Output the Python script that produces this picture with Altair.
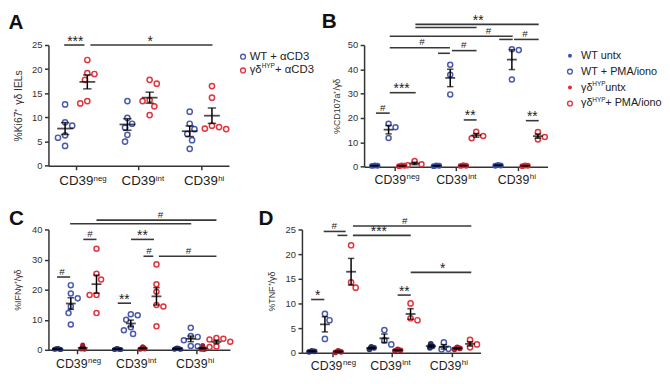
import altair as alt
import numpy as np
import pandas as pd

FONT = "Liberation Sans"
CAT_SUPS = ["neg", "int", "hi"]
Y_TITLES = ["%Ki67⁺ γδ IELs", "%CD107a⁺/γδ", "%IFNγ⁺/γδ", "%TNF⁺/γδ"]

# ---------------- Panel A ----------------
A_WT = [[12.7, 9.0, 8.3, 6.3, 5.8, 4.1], [13.4, 9.9, 8.7, 7.9, 6.4, 5.0], [11.2, 8.7, 7.6, 6.6, 5.3, 3.5]]
A_HYP = [[21.9, 19.2, 19.0, 17.8, 13.4, 12.9], [17.8, 17.0, 13.6, 13.4, 12.3, 10.5], [16.5, 14.1, 8.3, 8.0, 7.7, 7.6]]
A_SIG_X1 = [-0.194, 0.226]
A_SIG_X2 = [0.131, 2.185]
A_SIG_Y = [25.0, 25.0]
A_SIG_LAB = ["***", "*"]
A_SIG_LX = [-0.016, 1.185]

# ---------------- Panel B ----------------
B_WT_UNTX = [[0.3, 0.4, 0.5], [0.2, 0.4, 0.5], [0.4, 0.5, 0.7]]
B_WT_PMA = [[17.6, 16.2, 11.8], [41.9, 37.8, 29.7], [48.3, 47.9, 35.8]]
B_HYP_UNTX = [[0.2, 0.4, 0.5], [0.3, 0.4, 0.6], [0.2, 0.4, 0.5]]
B_HYP_PMA = [[2.3, 1.0, 0.6], [14.3, 12.6, 11.7], [14.2, 12.2, 11.2]]
B_SIG_X1 = [0.344, 0.344, -0.072, 1.704, 1.944, -0.072, 0.712, 0.936, -0.072, -0.296, 1.128, 2.136]
B_SIG_X2 = [2.344, 1.336, 1.923, 1.923, 2.344, 0.904, 0.904, 1.336, 0.349, -0.072, 1.336, 2.344]
B_SIG_Y = [58.5, 57.2, 53.6, 52.3, 52.3, 48.9, 46.6, 47.7, 30.4, 22.0, 19.2, 18.9]
B_SIG_LAB = ["**", "", "#", "", "#", "#", "", "#", "***", "#", "**", "**"]
B_SIG_LX = [1.363, None, 1.53, None, 2.12, 0.45, None, 1.13, 0.12, -0.184, 1.232, 2.24]

# ---------------- Panel C ----------------
C_WT_UNTX = [[0.1, 0.2, 0.2, 0.3, 0.4, 0.4], [0.1, 0.1, 0.2, 0.3, 0.3, 0.4], [0.2, 0.2, 0.3, 0.4, 0.5, 0.6]]
C_WT_STIM = [[21.5, 18.7, 17.1, 14.4, 12.2, 8.4], [11.8, 11.5, 10.0, 7.5, 6.5, 5.3], [7.3, 4.6, 4.3, 3.2, 1.3, 1.2]]
C_HYP_UNTX = [[1.6, 1.0, 0.6, 0.4, 0.3, 0.2], [1.0, 0.7, 0.5, 0.4, 0.3, 0.2], [1.4, 0.9, 0.5, 0.3, 0.2, 0.1]]
C_HYP_STIM = [[33.6, 25.3, 23.4, 18.2, 18.2, 12.2], [28.4, 21.8, 19.3, 14.9, 14.4, 7.8], [3.9, 3.7, 3.4, 2.7, 1.1, 0.9]]
C_SIG_X1 = [0.329, -0.110, 0.109, 0.905, 1.112, 1.370, -0.329, 0.684]
C_SIG_X2 = [2.329, 1.908, 0.329, 1.288, 1.276, 2.329, -0.110, 0.905]
C_SIG_Y = [43.1, 41.9, 36.7, 36.7, 31.1, 31.1, 24.2, 15.5]
C_SIG_LAB = ["#", "", "#", "**", "#", "#", "#", "**"]
C_SIG_LX = [1.398, None, 0.219, 1.095, 1.206, 1.864, -0.247, 0.794]

# ---------------- Panel D ----------------
D_WT_UNTX = [[0.2, 0.3, 0.4], [0.7, 1.0, 1.2], [1.0, 1.3, 1.8]]
D_WT_STIM = [[7.9, 6.6, 2.8], [4.6, 2.5, 1.7], [2.1, 0.8, 0.7]]
D_HYP_UNTX = [[0.1, 0.2, 0.4], [0.4, 0.5, 0.7], [0.7, 0.9, 1.1]]
D_HYP_STIM = [[21.8, 14.3, 13.2], [10.0, 7.0, 6.6], [2.6, 1.7, 1.1]]
D_SIG_X1 = [-0.149, 0.083, 0.343, 0.343, 1.315, -0.360, 1.095]
D_SIG_X2 = [0.221, 0.249, 2.333, 1.315, 2.333, -0.138, 1.315]
D_SIG_Y = [24.6, 23.8, 25.7, 23.8, 16.3, 10.8, 11.7]
D_SIG_LAB = ["#", "", "#", "***", "*", "*", "**"]
D_SIG_LX = [0.028, None, 1.216, 0.779, 1.852, -0.249, 1.206]

# ---------------- Legends ----------------
LEG_A_PRE = ["WT + αCD3", "γδ"]
LEG_A_SUP = ["", "HYP"]
LEG_A_POST = ["", "+ αCD3"]
LEG_B_PRE = ["WT untx", "WT + PMA/iono", "γδ", "γδ"]
LEG_B_SUP = ["", "", "HYP", "HYP"]
LEG_B_POST = ["", "", "\u00a0untx", "+ PMA/iono"]

BLUE_O, RED_O = "#4a5aad", "#e0353e"
BLUE_FB, RED_FB = "#3553b0", "#d9303a"
BLUE_FD, RED_FD = "#28316c", "#a81c2c"
INK = "#333333"


def swarm(vals, ypx, sep):
    step = sep / 3.0
    placed, out, total = [], [0.0] * len(vals), 0.0
    order = sorted(range(len(vals)), key=lambda i: -vals[i])
    for i in order:
        y = vals[i] * ypx
        chosen = None
        for j in range(0, 80):
            d = j * step
            cands = [0.0] if j == 0 else ([d, -d] if total <= 0 else [-d, d])
            for c in cands:
                if all((c - px) ** 2 + (y - py) ** 2 >= sep ** 2 - 1e-9 for px, py in placed):
                    chosen = c
                    break
            if chosen is not None:
                break
        placed.append((chosen, y))
        out[i] = chosen
        total += chosen
    return out


def panel(p):
    W, H, xdom, ydom = p["w"], p["h"], p["xdom"], p["ydom"]
    L = p["letter"]
    gf = "grp" + L
    pxx = W / (xdom[1] - xdom[0])
    pxy = H / (ydom[1] - ydom[0])
    rows, stats = [], []
    for gi, (name, vals, filled) in enumerate(p["groups"]):
        for ci, v in enumerate(vals):
            cx = ci + p["goff"][gi]
            offs = swarm(v, pxy, p["sep_f"] if filled else p["sep_o"])
            for val, o in zip(v, offs):
                rows.append({"x": cx + o / pxx, "y": val, gf: name, "filled": filled})
            arr = np.array(v, dtype=float)
            m = arr.mean()
            s = arr.std(ddof=1) / np.sqrt(len(arr))
            stats.append({"x": cx, "m": m, "lo": m - s, "hi": m + s})
    pts = pd.DataFrame(rows)
    st = pd.DataFrame(stats)
    lx = [l if l is not None else (a + b) / 2 for l, a, b in zip(p["sig_lx"], p["sig_x1"], p["sig_x2"])]
    sig = pd.DataFrame({"x1": p["sig_x1"], "x2": p["sig_x2"], "y": p["sig_y"], "lab": p["sig_lab"], "lx": lx})
    cats = pd.DataFrame({"x": [0, 1, 2], "sup": CAT_SUPS})

    xs = alt.Scale(domain=xdom, nice=False, zero=False)
    ys = alt.Scale(domain=ydom, nice=False, zero=True)
    xa = alt.Axis(values=[0, 1, 2], labels=False, title=None, grid=False, tickSize=4)
    ya = alt.Axis(values=p["yticks"], title=p["ytitle"], grid=False, tickSize=4,
                  titleFontSize=p["tfs"], titlePadding=p["tpad"], labelFontSize=9.5)

    def X(f):
        return alt.X(f, type="quantitative", scale=xs, axis=xa)

    def Y(f):
        return alt.Y(f, type="quantitative", scale=ys, axis=ya)

    col = alt.Color(gf, type="nominal",
                    scale=alt.Scale(domain=[g[0] for g in p["groups"]], range=p["colors"]), legend=None)

    base = alt.Chart(pts)
    filled = base.transform_filter("datum.filled").mark_circle(size=p["fsize"], opacity=1).encode(
        x=X("x"), y=Y("y"), color=col)
    opened = base.transform_filter("!datum.filled").mark_point(
        shape="circle", filled=False, size=p["osize"], strokeWidth=1.5, opacity=1).encode(
        x=X("x"), y=Y("y"), color=col)

    sb = alt.Chart(st)
    err = sb.mark_rule(color="black", strokeWidth=1.5).encode(x=X("x"), y=Y("lo"), y2=alt.Y2("hi"))
    mean = sb.mark_tick(orient="horizontal", size=p["mw"], thickness=1.8, color="black").encode(x=X("x"), y=Y("m"))
    caplo = sb.mark_tick(orient="horizontal", size=p["cw"], thickness=1.5, color="black").encode(x=X("x"), y=Y("lo"))
    caphi = sb.mark_tick(orient="horizontal", size=p["cw"], thickness=1.5, color="black").encode(x=X("x"), y=Y("hi"))

    gb = alt.Chart(sig)
    srule = gb.mark_rule(color="#383838", strokeWidth=1.6).encode(x=X("x1"), x2=alt.X2("x2"), y=Y("y"))
    stars = gb.transform_filter("indexof(datum.lab, '*') >= 0").mark_text(
        fontSize=14, baseline="alphabetic", dy=0.5, color="#222").encode(x=X("lx"), y=Y("y"), text="lab:N")
    hashes = gb.transform_filter("datum.lab == '#'").mark_text(
        fontSize=10, baseline="alphabetic", dy=-2.5, color="#222").encode(x=X("lx"), y=Y("y"), text="lab:N")

    cb = alt.Chart(cats)
    cmain = cb.mark_text(text="CD39", fontSize=p["cfs"], baseline="alphabetic", dx=p["cdx"], color="#222").encode(
        x=X("x"), y=alt.value(H + p["coff"]))
    csup = cb.mark_text(fontSize=8, align="left", baseline="alphabetic", dx=p["sdx"], dy=-5, color="#222").encode(
        x=X("x"), y=alt.value(H + p["coff"]), text="sup:N")

    letter = alt.Chart(pd.DataFrame({"t": [L]})).mark_text(
        fontSize=21, fontWeight="bold", align="left", baseline="alphabetic", color="#111").encode(
        x=alt.value(p["lxy"][0]), y=alt.value(p["lxy"][1]), text="t:N")

    return alt.layer(filled, opened, err, mean, caplo, caphi, srule, stars, hashes, cmain, csup, letter).properties(
        width=W, height=H)


def legend(tag, pre, sup, post, colors, filled, W, H, yr, sx, tx, fs, sup_w, pre_w):
    kf = "key" + tag
    keys = [f"{tag}{i}" for i in range(len(pre))]
    df = pd.DataFrame({kf: keys, "pre": pre, "sup": sup, "post": post, "filled": filled})
    ysc = alt.Scale(type="point", domain=keys, range=yr, padding=0)
    Yk = alt.Y(kf, type="nominal", scale=ysc, axis=None)
    col = alt.Color(kf, type="nominal", scale=alt.Scale(domain=keys, range=colors), legend=None)
    b = alt.Chart(df)
    op = b.transform_filter("!datum.filled").mark_point(
        shape="circle", filled=False, size=24, strokeWidth=1.4, opacity=1).encode(x=alt.value(sx), y=Yk, color=col)
    fl = b.transform_filter("datum.filled").mark_circle(size=16, opacity=1).encode(x=alt.value(sx), y=Yk, color=col)
    t1 = b.mark_text(align="left", baseline="middle", fontSize=fs, color="#222").encode(
        x=alt.value(tx), y=Yk, text="pre:N")
    t2 = b.mark_text(align="left", baseline="middle", fontSize=6.5, dy=-4, color="#222").encode(
        x=alt.value(tx + pre_w), y=Yk, text="sup:N")
    t3 = b.mark_text(align="left", baseline="middle", fontSize=fs, color="#222").encode(
        x=alt.value(tx + pre_w + sup_w), y=Yk, text="post:N")
    return alt.layer(op, fl, t1, t2, t3).properties(width=W, height=H)


pA = panel(dict(
    w=183, h=122.4, xdom=[-0.447, 2.45], ydom=[0, 25], yticks=[0, 5, 10, 15, 20, 25], ytitle=Y_TITLES[0],
    tfs=10.5, tpad=8.4,
    groups=[("WT + αCD3", A_WT, False), ("γδHYP+ αCD3", A_HYP, False)],
    colors=[BLUE_O, RED_O], goff=[-0.18, 0.177], sep_o=7.2, sep_f=2.5, osize=28, fsize=28,
    mw=16, cw=8.5, sig_x1=A_SIG_X1, sig_x2=A_SIG_X2, sig_y=A_SIG_Y, sig_lab=A_SIG_LAB, sig_lx=A_SIG_LX,
    cfs=13.5, cdx=0, sdx=17.5, coff=20, letter="A", lxy=(-40.5, -16.6)))

pB = panel(dict(
    w=186, h=123.3, xdom=[-0.488, 2.488], ydom=[0, 50], yticks=[0, 10, 20, 30, 40, 50], ytitle=Y_TITLES[1],
    tfs=9, tpad=6,
    groups=[("WT untx", B_WT_UNTX, True), ("WT + PMA/iono", B_WT_PMA, False),
            ("γδ untx", B_HYP_UNTX, True), ("γδ + PMA/iono", B_HYP_PMA, False)],
    colors=[BLUE_FB, BLUE_O, RED_FB, RED_O], goff=[-0.315, -0.091, 0.123, 0.331], sep_o=7.0, sep_f=2.8,
    osize=26, fsize=36, mw=10, cw=6.5,
    sig_x1=B_SIG_X1, sig_x2=B_SIG_X2, sig_y=B_SIG_Y, sig_lab=B_SIG_LAB, sig_lx=B_SIG_LX,
    cfs=12.5, cdx=-4, sdx=12.5, coff=17.7, letter="B", lxy=(-43, -17.7)))

pC = panel(dict(
    w=184, h=122, xdom=[-0.472, 2.554], ydom=[0, 40], yticks=[0, 10, 20, 30, 40], ytitle=Y_TITLES[2],
    tfs=9, tpad=9,
    groups=[("WT untx", C_WT_UNTX, True), ("WT stim", C_WT_STIM, False),
            ("γδ untx", C_HYP_UNTX, True), ("γδ stim", C_HYP_STIM, False)],
    colors=[BLUE_FD, BLUE_O, RED_FD, RED_O], goff=[-0.329, -0.099, 0.099, 0.329], sep_o=7.0, sep_f=1.3,
    osize=26, fsize=26, mw=10, cw=6.5,
    sig_x1=C_SIG_X1, sig_x2=C_SIG_X2, sig_y=C_SIG_Y, sig_lab=C_SIG_LAB, sig_lx=C_SIG_LX,
    cfs=12.5, cdx=-5, sdx=11.5, coff=18, letter="C", lxy=(-40, -4.5)))

pD = panel(dict(
    w=181, h=125, xdom=[-0.514, 2.488], ydom=[0, 25], yticks=[0, 5, 10, 15, 20, 25], ytitle=Y_TITLES[3],
    tfs=9, tpad=9,
    groups=[("WT untx", D_WT_UNTX, True), ("WT stim", D_WT_STIM, False),
            ("γδ untx", D_HYP_UNTX, True), ("γδ stim", D_HYP_STIM, False)],
    colors=[BLUE_FD, BLUE_O, RED_FD, RED_O], goff=[-0.348, -0.128, 0.096, 0.312], sep_o=7.0, sep_f=2.8,
    osize=28, fsize=34, mw=10, cw=6.5,
    sig_x1=D_SIG_X1, sig_x2=D_SIG_X2, sig_y=D_SIG_Y, sig_lab=D_SIG_LAB, sig_lx=D_SIG_LX,
    cfs=12.5, cdx=-6, sdx=10.5, coff=17.5, letter="D", lxy=(-44, -4.5)))

legA = legend("a", LEG_A_PRE, LEG_A_SUP, LEG_A_POST, [BLUE_O, RED_O], [False, False],
              W=91, H=122.4, yr=[11.8, 25.8], sx=11.3, tx=18, fs=11.5, sup_w=13.5, pre_w=12.2)
legB = legend("b", LEG_B_PRE, LEG_B_SUP, LEG_B_POST, [BLUE_FB, BLUE_O, RED_FB, RED_O], [True, False, True, False],
              W=106, H=123.3, yr=[10.8, 59.3], sx=19.7, tx=31, fs=11, sup_w=13.2, pre_w=11.3)

row1 = alt.hconcat(pA, legA, pB, legB, spacing=0).resolve_scale(color="independent")
row2 = alt.hconcat(pC, pD, spacing=23).resolve_scale(color="independent")

chart = alt.vconcat(row1, row2, spacing=20).resolve_scale(color="independent").properties(padding=0).configure(
    font=FONT).configure_view(stroke=None).configure_axis(
    domainColor=INK, tickColor=INK, labelColor=INK, titleColor=INK, domainWidth=1.5, tickWidth=1.5,
    labelPadding=2.5, titleFontWeight="normal", labelFont=FONT, titleFont=FONT)

chart.save("out.html", embed_options={"renderer": "svg", "actions": False})
